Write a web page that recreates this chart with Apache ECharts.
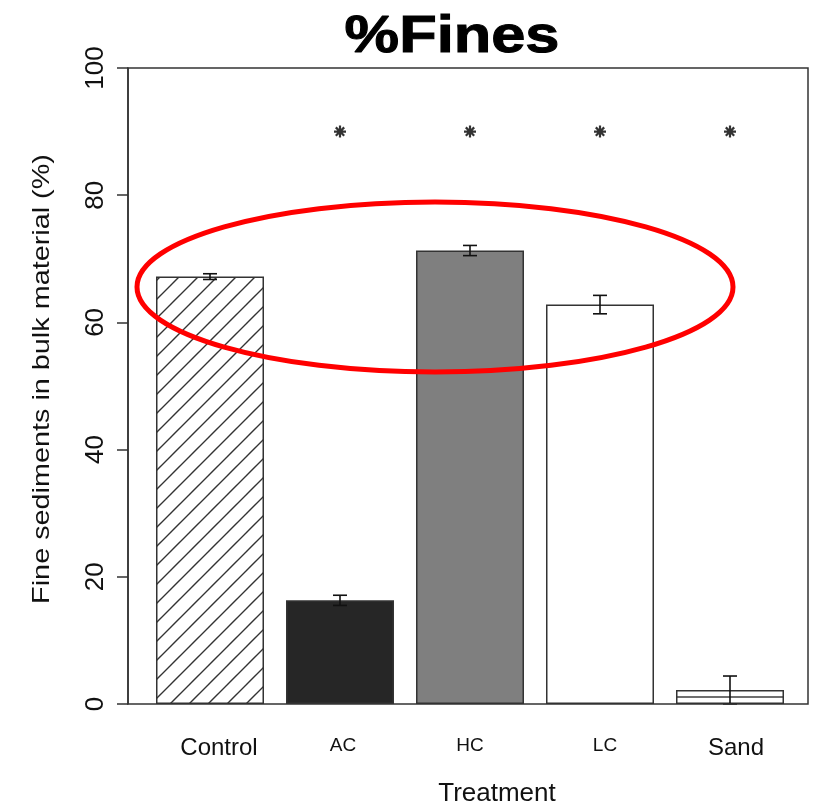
<!DOCTYPE html>
<html>
<head>
<meta charset="utf-8">
<script src="https://cdn.jsdelivr.net/npm/echarts@6/dist/echarts.min.js"></script>
<style>
  html, body { margin: 0; padding: 0; background: #fff; }
  #chart { width: 815px; height: 807px; }
</style>
</head>
<body>
<div id="chart"></div>
<script>
// ---- data ----
const categories = ['Control', 'AC', 'HC', 'LC', 'Sand'];
const means = [67.2, 16.3, 71.3, 62.8, 2.2];
const errors = [0.45, 0.8, 0.8, 1.45, 2.2];
const significant = [false, true, true, true, true];
const yTicks = [0, 20, 40, 60, 80, 100];
const starLevel = 90;

// ---- styles ----
const FONT = '"Liberation Sans", Arial, sans-serif';
const INK = '#111';
const labelSizes = [24, 19, 19, 19, 24];
const labelShift = [9, 3, 0, 5, 6];

function diagPattern() {
  const s = 19;
  const c = document.createElement('canvas');
  c.width = s; c.height = s;
  const g = c.getContext('2d');
  g.fillStyle = '#fff'; g.fillRect(0, 0, s, s);
  g.strokeStyle = '#333'; g.lineWidth = 1.4;
  g.beginPath();
  g.moveTo(-2, s + 2); g.lineTo(s + 2, -2);
  g.moveTo(-2, 2); g.lineTo(2, -2);
  g.moveTo(s - 2, s + 2); g.lineTo(s + 2, s - 2);
  g.stroke();
  return c;
}
function horizPattern() {
  const c = document.createElement('canvas');
  c.width = 8; c.height = 7;
  const g = c.getContext('2d');
  g.fillStyle = '#fff'; g.fillRect(0, 0, 8, 7);
  g.fillStyle = '#333'; g.fillRect(0, 3.3, 8, 1.4);
  return c;
}
const fills = [
  { image: diagPattern(), repeat: 'repeat' },
  '#262626',
  '#7f7f7f',
  '#ffffff',
  { image: horizPattern(), repeat: 'repeat' }
];

const rich = {};
categories.forEach((c, i) => {
  rich['l' + i] = {
    fontSize: labelSizes[i], fontFamily: FONT, color: INK,
    padding: [0, 0, 0, 2 * labelShift[i]]
  };
});

const chart = echarts.init(document.getElementById('chart'), null, { renderer: 'canvas' });

const option = {
  animation: false,
  backgroundColor: '#fff',
  grid: [
    { left: 128, right: 7, top: 68, bottom: 103, show: true, borderColor: '#333', borderWidth: 1.5, backgroundColor: 'transparent', z: 5 },
    { left: 145, right: 20, top: 68, bottom: 103 }
  ],
  xAxis: [
    { type: 'value', gridIndex: 0, min: 0, max: 1, show: false },
    {
      type: 'category', gridIndex: 1, data: categories,
      axisLine: { show: false }, axisTick: { show: false },
      axisLabel: {
        margin: 32, color: INK, fontFamily: FONT,
        formatter: (v, i) => '{l' + i + '|' + v + '}',
        rich: rich
      }
    }
  ],
  yAxis: [
    {
      type: 'value', gridIndex: 0, min: yTicks[0], max: yTicks[yTicks.length - 1], interval: 20,
      axisLine: { show: true, lineStyle: { color: '#333', width: 1.5 } },
      axisTick: { show: true, length: 11, lineStyle: { color: '#333', width: 1.5 } },
      splitLine: { show: false },
      axisLabel: { rotate: 90, fontSize: 26, fontFamily: FONT, color: INK, margin: 19 }
    },
    { type: 'value', gridIndex: 1, min: 0, max: 100, show: false }
  ],
  series: [
    {
      type: 'bar', xAxisIndex: 1, yAxisIndex: 1, barWidth: 108,
      data: means.map((v, i) => ({
        value: v,
        itemStyle: { color: fills[i], borderColor: '#333', borderWidth: 1.5 }
      })),
      z: 2
    },
    {
      type: 'custom', xAxisIndex: 1, yAxisIndex: 1, z: 3,
      data: means.map((v, i) => [i, Math.max(0, v - errors[i]), v + errors[i]]),
      renderItem: function (params, api) {
        const lo = api.coord([api.value(0), api.value(1)]);
        const hi = api.coord([api.value(0), api.value(2)]);
        const w = 7;
        const style = { stroke: INK, lineWidth: 1.6 };
        return {
          type: 'group',
          children: [
            { type: 'line', shape: { x1: lo[0], y1: lo[1], x2: hi[0], y2: hi[1] }, style },
            { type: 'line', shape: { x1: lo[0] - w, y1: lo[1], x2: lo[0] + w, y2: lo[1] }, style },
            { type: 'line', shape: { x1: hi[0] - w, y1: hi[1], x2: hi[0] + w, y2: hi[1] }, style }
          ]
        };
      }
    },
    {
      type: 'scatter', xAxisIndex: 1, yAxisIndex: 1, z: 4,
      symbol: 'path://M6,0L6,12M0,6L12,6M1.8,1.8L10.2,10.2M1.8,10.2L10.2,1.8',
      symbolSize: 12,
      itemStyle: { color: 'none', borderColor: '#000', borderWidth: 2.2 },
      data: significant.map((s, i) => s ? [i, starLevel] : null).filter(d => d)
    }
  ],
  graphic: [
    {
      type: 'text', x: 452, y: 38, scaleX: 1.18,
      style: { text: '%Fines', font: 'bold 52px ' + FONT, fill: '#000', stroke: '#000', lineWidth: 1, textAlign: 'center', textVerticalAlign: 'middle' }
    },
    {
      type: 'text', x: 497, y: 794,
      style: { text: 'Treatment', font: '26px ' + FONT, fill: INK, textAlign: 'center', textVerticalAlign: 'middle' }
    },
    {
      type: 'text', x: 42, y: 379, rotation: Math.PI / 2, scaleX: 1.2,
      style: { text: 'Fine sediments in bulk material (%)', font: '24px ' + FONT, fill: INK, textAlign: 'center', textVerticalAlign: 'middle' }
    },
    {
      type: 'ellipse', z: 100,
      shape: { cx: 435, cy: 287, rx: 298, ry: 85 },
      style: { fill: 'none', stroke: '#ff0000', lineWidth: 5 }
    }
  ]
};
chart.setOption(option);
</script>
</body>
</html>
